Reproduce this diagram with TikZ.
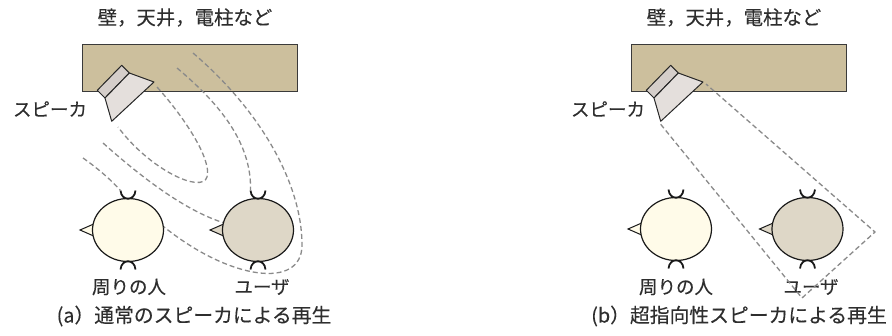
\documentclass[tikz,border=0pt]{standalone}
\usepackage{fontspec}
\setmainfont{Noto Sans CJK JP}[FakeBold=0.2]
\usetikzlibrary{shapes.geometric}

\definecolor{wallfill}{HTML}{CCBF9D}
\definecolor{walldraw}{HTML}{3A3A3A}
\definecolor{platefill}{HTML}{D5CECA}
\definecolor{conefill}{HTML}{E4DFDC}
\definecolor{otherfill}{HTML}{FFFBE9}
\definecolor{userfill}{HTML}{DED7C7}
\definecolor{wavegray}{HTML}{8A8A8A}
\definecolor{txt}{HTML}{2E2E2E}

\tikzset{
  wall/.style={draw=walldraw, fill=wallfill, line width=1.1pt},
  spk/.style={draw=black!85, line width=1pt, line join=round},
  headshape/.style={ellipse, draw=black!90, line width=1.2pt,
    minimum width=71pt, minimum height=63pt, inner sep=0pt},
  ear/.style={draw=black!90, line width=1.8pt},
  nose/.style={draw=black!90, line width=1pt},
  wave/.style={draw=wavegray, line width=1.3pt, dash pattern=on 5pt off 3pt},
  lbl/.style={text=txt, inner sep=0pt, font=\fontsize{18.5}{18.5}\selectfont},
  spklbl/.style={text=txt, inner sep=0pt, font=\fontsize{18.5}{18.5}\selectfont},
  ttl/.style={text=txt, inner sep=0pt, font=\fontsize{19.4}{20}\selectfont},
  captext/.style={text=txt, inner sep=0pt, font=\fontsize{19.8}{20}\selectfont},
}

% head seen from above: nose, ellipse, ears; #1 name, #2 x, #3 y, #4 fill
\newcommand{\drawhead}[4]{%
  \begin{scope}[shift={(#2,#3)}]
    \draw[nose, fill=#4] (-32,-7) -- (-48,0) -- (-32,7) -- cycle;
    \node[headshape, fill=#4] (#1) at (0,0) {};
    \draw[ear] (-7.5,-39.5) .. controls (-6.5,-28.5) and (6.5,-28.5) .. (7.5,-39.5);
    \draw[ear] (-7.5,39.5) .. controls (-6.5,28.5) and (6.5,28.5) .. (7.5,39.5);
    \coordinate (#1-ear) at (-7.5,-39.5);
  \end{scope}}

% wall slab with the speaker mounted at its lower-left corner; #1 prefix
\newcommand{\drawwall}[1]{%
  \node[wall, minimum width=215pt, minimum height=47pt, inner sep=0pt,
        anchor=north west] (#1-wall) at (82,44) {};
  \draw[spk, fill=platefill] (97.3,90.3) -- (121.7,65.3) -- (129.3,73) -- (105,98) -- cycle;
  \draw[spk, fill=conefill] (129.3,73) -- (154,82) -- (111.7,121.3) -- (105,98) -- cycle;
  \coordinate (#1-tip) at (154,82);
  \coordinate (#1-low) at (111.7,121.3);}

\begin{document}
\begin{tikzpicture}[x=1pt, y=-1pt]
  \useasboundingbox (0,0) rectangle (892,335);

  % ---------------- (a) ordinary loudspeaker ----------------
  \drawwall{a}
  \node[ttl] (a-title) at (185,17.5) {壁，天井，電柱など};
  \node[spklbl] (a-spk) at (50,109) {スピーカ};

  \coordinate (a-w1) at (157,87);
  \coordinate (a-w2) at (118,127);
  \coordinate (a-w3) at (103,143);
  \coordinate (a-w4) at (83,158);
  \coordinate (a-w5) at (177,68);
  \coordinate (a-w6) at (193,53);

  \drawhead{a-other}{128}{230}{otherfill}
  \drawhead{a-user}{258}{230}{userfill}

  % sound spreading in every direction
  \draw[wave] (a-w1) .. controls (185,118) and (212,160) .. (207,177)
              .. controls (202,194) and (150,170) .. (a-w2);
  \draw[wave] (a-w3) .. controls (150,185) and (190,212) .. (a-user.168);
  \draw[wave] (a-w4) .. controls (100,170) and (112,181) .. (a-other-ear);
  \draw[wave] (a-w5) .. controls (215,100) and (252,140) .. (a-user-ear);
  \draw[wave] (a-w6) .. controls (262,112) and (302,185) .. (302,245)
              .. controls (302,290) and (230,280) .. (a-other.5);

  \node[lbl] (a-lother) at (129,287) {周りの人};
  \node[lbl] (a-luser) at (262,287) {ユーザ};
  \node[captext] (a-cap) at (194,316) {(a）通常のスピーカによる再生};

  % ---------------- (b) highly directional loudspeaker ----------------
  \begin{scope}[xshift=549pt]
    \drawwall{b}
    \drawhead{b-other}{127}{229}{otherfill}
    \drawhead{b-user}{258.5}{229}{userfill}
    \coordinate (b-c1) at (253,298);
    \coordinate (b-c2) at (326,232);
  \end{scope}
  \node[ttl] (b-title) at (734,17.5) {壁，天井，電柱など};
  \node[spklbl] (b-spk) at (608,109) {スピーカ};
  \node[lbl] (b-lother) at (676,287) {周りの人};
  \node[lbl] (b-luser) at (811,287) {ユーザ};
  \node[captext] (b-cap) at (739,316) {(b）超指向性スピーカによる再生};

  % narrow beam reaching only the user
  \draw[wave] ([shift={(0,3)}]b-low) -- (b-c1) -- (b-c2) -- ([shift={(3,2)}]b-tip);
\end{tikzpicture}
\end{document}
